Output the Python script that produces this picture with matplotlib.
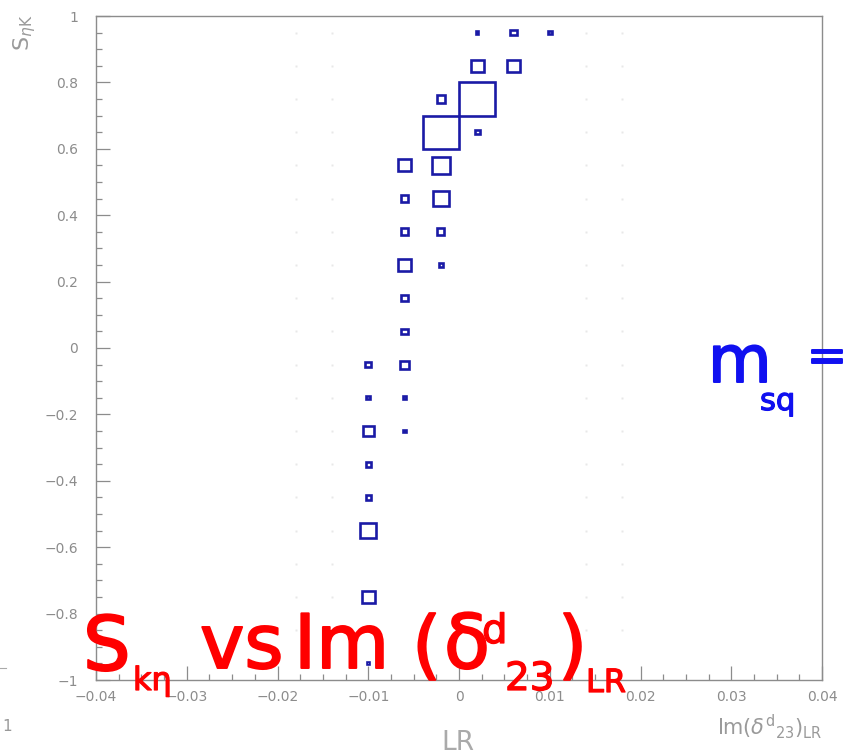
import matplotlib
matplotlib.use("Agg")
import matplotlib.pyplot as plt
import matplotlib.patheffects as pe
from matplotlib.patches import Rectangle
from matplotlib.ticker import MultipleLocator, FixedLocator, FixedFormatter

# ---- histogram contents (bin centres and box-size weights) ----
im_delta = [0.002, 0.006, 0.010,
            0.002, 0.006,
            -0.002, 0.002,
            -0.002, 0.002,
            -0.006, -0.002,
            -0.006, -0.002,
            -0.006, -0.002,
            -0.006, -0.002,
            -0.006,
            -0.006,
            -0.010, -0.006,
            -0.010, -0.006,
            -0.010, -0.006,
            -0.010,
            -0.010,
            -0.010,
            -0.010,
            -0.010]
s_etak = [0.95, 0.95, 0.95,
          0.85, 0.85,
          0.75, 0.75,
          0.65, 0.65,
          0.55, 0.55,
          0.45, 0.45,
          0.35, 0.35,
          0.25, 0.25,
          0.15,
          0.05,
          -0.05, -0.05,
          -0.15, -0.15,
          -0.25, -0.25,
          -0.35,
          -0.45,
          -0.55,
          -0.75,
          -0.95]
entries = [0.07, 0.17, 0.10,
           0.36, 0.36,
           0.22, 1.00,
           1.00, 0.13,
           0.36, 0.50,
           0.20, 0.45,
           0.20, 0.20,
           0.36, 0.10,
           0.17,
           0.17,
           0.17, 0.24,
           0.10, 0.10,
           0.30, 0.08,
           0.15,
           0.13,
           0.45,
           0.36,
           0.06]

# nearly-empty bins drawn as faint specks
faint_cols = [-0.018, -0.014, 0.014, 0.018]
faint_rows = [0.95, 0.85, 0.75, 0.65, 0.55, 0.45, 0.35, 0.25, 0.15, 0.05,
              -0.05, -0.15, -0.25, -0.35, -0.45, -0.55, -0.65, -0.75, -0.85]

bin_w = 0.004
bin_h = 0.1

x_ticks = [-0.04, -0.03, -0.02, -0.01, 0.0, 0.01, 0.02, 0.03, 0.04]
x_tick_labels = ['\u22120.04', '\u22120.03', '\u22120.02', '\u22120.01', '0',
                 '0.01', '0.02', '0.03', '0.04']
y_ticks = [-1.0, -0.8, -0.6, -0.4, -0.2, 0.0, 0.2, 0.4, 0.6, 0.8, 1.0]
y_tick_labels = ['\u22121', '\u22120.8', '\u22120.6', '\u22120.4', '\u22120.2', '0',
                 '0.2', '0.4', '0.6', '0.8', '1']

W, H = 848, 756
fig = plt.figure(figsize=(W / 100, H / 100), dpi=100)
fig.patch.set_facecolor('white')
ax = fig.add_axes([96 / W, 1 - 680 / H, (822 - 96) / W, (680 - 16) / H])
ax.set_xlim(-0.04, 0.04)
ax.set_ylim(-1, 1)

grey = '#8c8c8c'
box_col = '#1a1aa6'

for c in faint_cols:
    for r in faint_rows:
        ax.plot(c, r, marker='s', ms=2.0, color='#e8e8e8', mec='none')

vmax = max(entries)
for x, y, e in zip(im_delta, s_etak, entries):
    f = e / vmax
    w, h = f * bin_w, f * bin_h
    ax.add_patch(Rectangle((x - w / 2, y - h / 2), w, h, fill=False,
                           edgecolor=box_col, linewidth=1.9, joinstyle='miter'))

for s in ax.spines.values():
    s.set_color(grey)
    s.set_linewidth(1.0)

ax.xaxis.set_major_locator(FixedLocator(x_ticks))
ax.xaxis.set_major_formatter(FixedFormatter(x_tick_labels))
ax.xaxis.set_minor_locator(MultipleLocator(0.0025))
ax.yaxis.set_major_locator(FixedLocator(y_ticks))
ax.yaxis.set_major_formatter(FixedFormatter(y_tick_labels))
ax.yaxis.set_minor_locator(MultipleLocator(0.05))
ax.tick_params(which='both', direction='in', color=grey, width=0.9,
               top=False, right=False)
ax.tick_params(which='major', length=10)
ax.tick_params(which='minor', length=4.5)
ax.tick_params(axis='y', which='major', pad=13, labelsize=10, labelcolor=grey)
ax.tick_params(axis='x', which='major', pad=7, labelsize=10, labelcolor=grey)

# axis titles
fig.text(823 / W, 1 - 735 / H, r'$\mathrm{Im}(\delta^{\mathrm{d}}{}_{23})_{\mathrm{LR}}$',
         ha='right', va='baseline', fontsize=15, color='#9a9a9a')
fig.text(25 / W, 1 - 33 / H, r'$\mathrm{S}_{\eta \mathrm{K}}$', rotation=90,
         ha='center', va='center', fontsize=16, color='#9a9a9a')
fig.text(441 / W, 1 - 750 / H, 'LR', ha='left', va='baseline',
         fontsize=19, color='#aaaaaa')
fig.text(2 / W, 1 - 731 / H, '1', ha='left', va='baseline',
         fontsize=11, color='#999999')
fig.add_artist(plt.Line2D([0, 6 / W], [1 - 668 / H, 1 - 668 / H],
                          color='#aaaaaa', lw=0.8))

# red overlay title
red = '#ff0000'
def put(px, py, s, size, col=red, thick=1.4):
    fig.text(px / W, 1 - py / H, s, ha='left', va='baseline', fontsize=size,
             color=col, zorder=10,
             path_effects=[pe.withStroke(linewidth=thick, foreground=col)])

put(83, 670, 'S', 54)
put(133, 690, 'k\u03b7', 23, thick=0.9)
put(200, 668, 'vs', 54)
put(294, 668, 'Im', 54)
put(412, 670, '(', 54)
put(444, 668, '\u03b4', 54)
put(482, 643, 'd', 29, thick=0.9)
put(505, 690, '23', 28, thick=0.9)
put(558, 670, ')', 54)
put(586, 692, 'LR', 23, thick=0.9)

# blue annotation
blue = '#1010f0'
put(708, 382, 'm', 47, col=blue)
put(760, 410, 'sq', 22, col=blue, thick=0.9)
put(807, 371, '=', 34, col=blue)

fig.savefig('out.png', dpi=100, facecolor='white')
